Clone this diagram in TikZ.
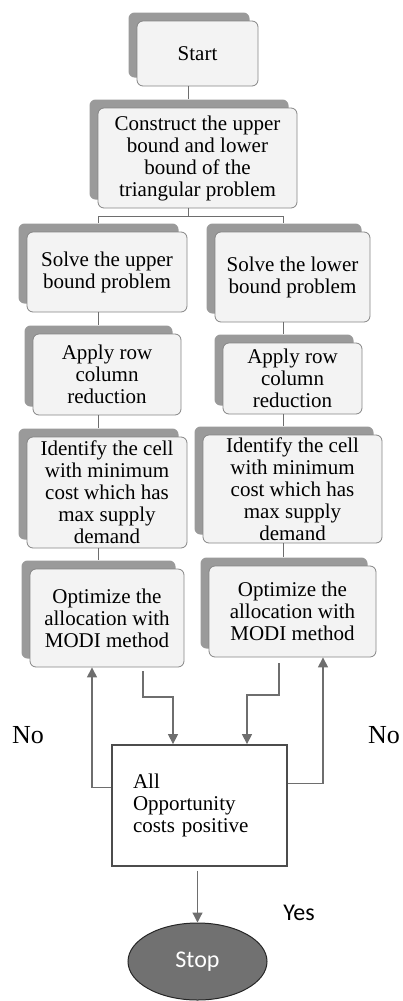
\documentclass[tikz,border=0pt]{standalone}
\usepackage{fontspec}
\setmainfont{Liberation Serif}
\newfontfamily\calibrifont{Carlito}
\usetikzlibrary{positioning, arrows.meta, shapes.geometric, shadows}
\definecolor{boxfill}{HTML}{F3F3F3}
\definecolor{boxline}{HTML}{858585}
\definecolor{shadegray}{HTML}{9A9A9A}
\definecolor{linegray}{HTML}{6E6E6E}
\definecolor{stopgray}{HTML}{717171}

\begin{document}
\begin{tikzpicture}[
    x=1pt, y=-1pt,
    every node/.style={font=\fontsize{21}{22}\selectfont},
    stepbox/.style={draw=boxline, line width=0.8pt, rounded corners=6pt, fill=boxfill,
      align=center, inner sep=2pt,
      general shadow={fill=shadegray, shadow xshift=-8.5pt, shadow yshift=8.5pt}},
    checkbox/.style={draw=black!70, line width=1.8pt, fill=white, align=left,
      inner xsep=21pt, text width=133pt, minimum height=121pt},
    endnode/.style={ellipse, draw=black!85, line width=1pt, fill=stopgray, text=white,
      font=\calibrifont\fontsize{24}{26}\selectfont},
    sidelabel/.style={font=\fontsize{26}{28}\selectfont},
    link/.style={draw=linegray, line width=1pt},
    arrow/.style={draw=linegray, line width=1.2pt, -{Triangle[length=10pt,width=10pt]}},
  ]
  \useasboundingbox (0,0) rectangle (403,1001);

  % top
  \node[stepbox, minimum width=121pt, minimum height=65pt] (start) at (197.5,53.5) {Start};
  \node[stepbox, minimum width=199pt, minimum height=100pt] (construct) at (197.5,158)
    {Construct the upper\\bound and lower\\bound of the\\triangular problem};

  % upper bound column
  \node[stepbox, minimum width=160pt, minimum height=80pt] (solveU) at (107,272)
    {Solve the upper\\bound problem};
  \node[stepbox, minimum width=148pt, minimum height=81pt] (applyU) at (107,374.5)
    {Apply row\\column\\reduction};
  \node[stepbox, minimum width=160pt, minimum height=111pt] (identU) at (107,492.5)
    {Identify the cell\\with minimum\\cost which has\\max supply\\demand};
  \node[stepbox, minimum width=154pt, minimum height=98pt] (optU) at (107,618)
    {Optimize the\\allocation with\\MODI method};

  % lower bound column
  \node[stepbox, minimum width=155pt, minimum height=90pt] (solveL) at (292.5,277)
    {Solve the lower\\bound problem};
  \node[stepbox, minimum width=139pt, minimum height=71pt] (applyL) at (292.5,378.5)
    {Apply row\\column\\reduction};
  \node[stepbox, minimum width=179pt, minimum height=108pt] (identL) at (292.5,489)
    {Identify the cell\\with minimum\\cost which has\\max supply\\demand};
  \node[stepbox, minimum width=167pt, minimum height=91pt] (optL) at (292.5,611.5)
    {Optimize the\\allocation with\\MODI method};

  % test and end
  \node[checkbox] (decision) at (199.5,805.5) {All\\Opportunity\\costs positive};
  \node[endnode, minimum width=139pt, minimum height=77pt] (stop) at (197.5,961.5) {Stop};

  \node[sidelabel] (noleft) at (28,735) {No};
  \node[sidelabel, anchor=west, inner xsep=0pt] (noright) at (368,735) {No};
  \node[font=\calibrifont\fontsize{24}{26}\selectfont] (yes) at (299,913) {Yes};

  % connectors
  \coordinate (split) at (188.5,216);
  \draw[link] ([xshift=-9pt]start.south) -- ([xshift=-9pt,yshift=8.5pt]construct.north);
  \draw[link] ([xshift=-9pt]construct.south) -- (split);
  \draw[link] (split) -| ([xshift=-9pt,yshift=8.5pt]solveU.north);
  \draw[link] (split) -| ([xshift=-9pt,yshift=8.5pt]solveL.north);
  \foreach \a/\b in {solveU/applyU, applyU/identU, identU/optU,
                     solveL/applyL, applyL/identL, identL/optL}
    \draw[link] ([xshift=-9pt]\a.south) -- ([xshift=-9pt,yshift=8.5pt]\b.north);

  % loop arrows
  \coordinate (bendL) at (173,697);
  \coordinate (bendR) at (247,695);
  \draw[arrow] ([xshift=36pt,yshift=-4pt]optU.south) |- (bendL) -- (bendL |- decision.north);
  \draw[arrow] ([xshift=-13.5pt,yshift=-6pt]optL.south) |- (bendR) -- (bendR |- decision.north);
  \draw[arrow] ([yshift=18pt]decision.west) -| ([xshift=-15pt]optU.south);
  \draw[arrow] ([yshift=22pt]decision.east) -| ([xshift=30.5pt]optL.south);
  \draw[arrow] ([yshift=-4pt]decision.south -| stop.north) -- (stop.north);
\end{tikzpicture}
\end{document}
